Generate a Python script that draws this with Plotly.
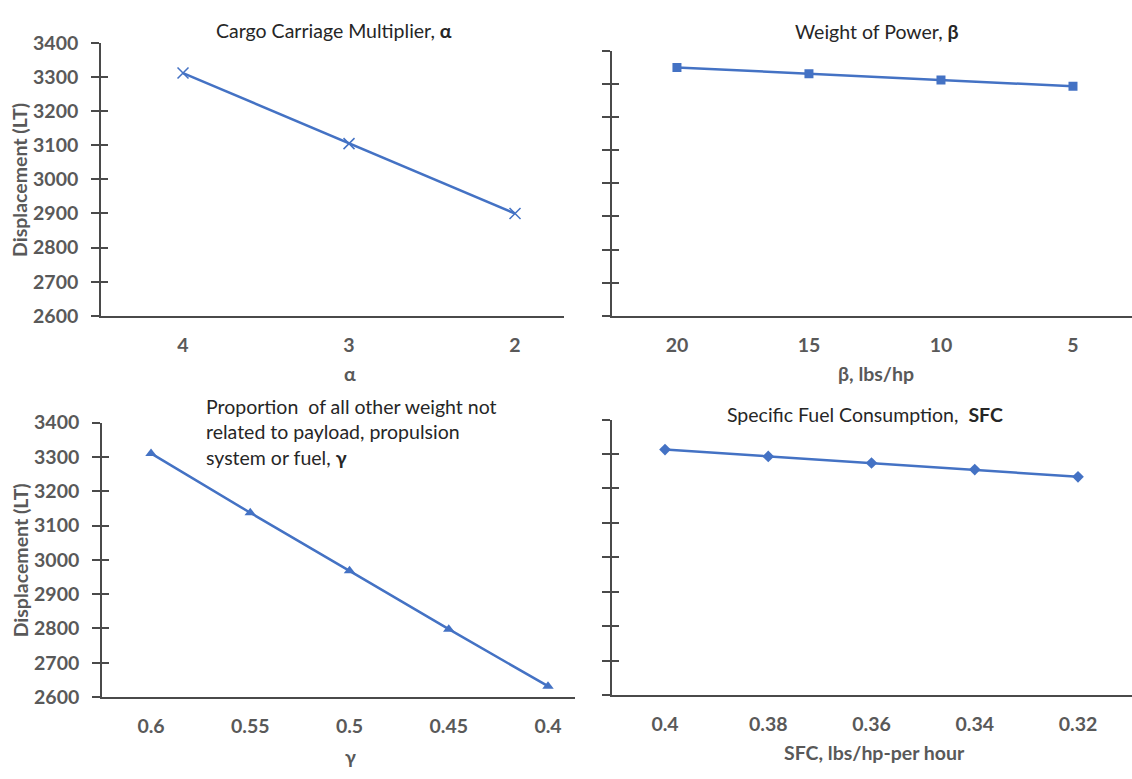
import plotly.graph_objects as go

W, H = 1132, 779

# ---- data ----
alpha_x = [4, 3, 2]
alpha_y = [3312, 3105, 2900]
beta_x = [20, 15, 10, 5]
beta_y = [3350, 3331, 3312, 3293]
gamma_x = [0.6, 0.55, 0.5, 0.45, 0.4]
gamma_y = [3310, 3137, 2968, 2798, 2632]
sfc_x = [0.4, 0.38, 0.36, 0.34, 0.32]
sfc_y = [3313, 3293, 3274, 3255, 3234]

alpha_ticks = ["4", "3", "2"]
beta_ticks = ["20", "15", "10", "5"]
gamma_ticks = ["0.6", "0.55", "0.5", "0.45", "0.4"]
sfc_ticks = ["0.4", "0.38", "0.36", "0.34", "0.32"]
y_ticks = [2600, 2700, 2800, 2900, 3000, 3100, 3200, 3300, 3400]

BLUE = "#4472C4"
AX = "#4a4a4a"
LBL = "#595959"
FONT = "Lato"
FS = 19.5

def px_x(a, b):
    return [a / W, b / W]

def px_y(top, bottom):
    return [1 - bottom / H, 1 - top / H]

panels = [
    dict(x=alpha_x, y=alpha_y, tt=alpha_ticks, sym="x-thin", size=11, xd=(101, 564), yd=(32, 313),
         xr=[4.494, 1.705], ylab=True),
    dict(x=beta_x, y=beta_y, tt=beta_ticks, sym="square", size=9, xd=(612, 1132), yd=(40, 313),
         xr=[22.46, 2.765], ylab=False),
    dict(x=gamma_x, y=gamma_y, tt=gamma_ticks, sym="triangle-up", size=10, xd=(102, 575), yd=(423, 706),
         xr=[0.6247, 0.3864], ylab=True),
    dict(x=sfc_x, y=sfc_y, tt=sfc_ticks, sym="diamond", size=9, xd=(612, 1132), yd=(420, 704),
         xr=[0.41027, 0.30954], ylab=False),
]

fig = go.Figure()
layout = {}
for i, p in enumerate(panels, start=1):
    xa = "x" if i == 1 else f"x{i}"
    ya = "y" if i == 1 else f"y{i}"
    yo = f"y{i + 4}"
    line_marker = dict(symbol=p["sym"], size=p["size"], color=BLUE,
                       line=dict(color=BLUE, width=1.5 if p["sym"] == "x-thin" else 0))
    fig.add_trace(go.Scatter(x=p["x"], y=p["y"], mode="lines+markers", xaxis=xa, yaxis=ya,
                             line=dict(color=BLUE, width=2.5), marker=line_marker,
                             showlegend=False, hoverinfo="x+y"))
    fig.add_trace(go.Scatter(x=[None], y=[None], xaxis=xa, yaxis=yo, showlegend=False,
                             hoverinfo="skip"))
    layout[f"xaxis{'' if i == 1 else i}"] = dict(
        domain=px_x(*p["xd"]), anchor=ya, range=p["xr"], tickvals=p["x"], ticktext=p["tt"],
        showgrid=False, zeroline=False, showline=True, linecolor=AX, linewidth=1.6,
        ticks="", ticklabelstandoff=11,
        tickfont=dict(family=FONT, size=FS, color=LBL, weight="bold"))
    layout[f"yaxis{'' if i == 1 else i}"] = dict(
        domain=px_y(*p["yd"]), anchor=xa, range=[2600, 3400], tickvals=y_ticks,
        showgrid=False, zeroline=False, showline=True, linecolor=AX, linewidth=1.6,
        ticks="outside", ticklen=8, tickwidth=1.5, tickcolor=AX,
        showticklabels=p["ylab"], ticklabelstandoff=9,
        tickfont=dict(family=FONT, size=FS, color=LBL, weight="bold"))
    layout[f"yaxis{i + 4}"] = dict(
        domain=px_y(*p["yd"]), anchor=xa, overlaying=ya, range=[2600, 3400], tickvals=y_ticks,
        showgrid=False, zeroline=False, showline=False,
        ticks="inside", ticklen=7, tickwidth=1.5, tickcolor=AX, showticklabels=False)

def ann(text, x, y, size=FS, color="#262626", bold=False, xanchor="center", align="center",
        angle=0):
    return dict(text=text, x=x / W, y=1 - y / H, xref="paper", yref="paper", showarrow=False,
                xanchor=xanchor, yanchor="middle", align=align, textangle=angle,
                font=dict(family=FONT, size=size, color=color,
                          weight="bold" if bold else "normal"))

annotations = [
    ann("Cargo Carriage Multiplier, <b>α</b>", 334, 19),
    ann("Weight of Power, <b>β</b>", 877, 20),
    ann("Proportion  of all other weight not<br>related to payload, propulsion<br>system or fuel, <b>γ</b>",
        204, 433, xanchor="left", align="left"),
    ann("Specific Fuel Consumption,  <b>SFC</b>", 865, 415),
    ann("α", 350, 373, color=LBL, bold=True),
    ann("β, lbs/hp", 876, 373, color=LBL, bold=True),
    ann("γ", 350, 767, color=LBL, bold=True),
    ann("SFC, lbs/hp-per hour", 874, 763, color=LBL, bold=True),
    ann("Displacement (LT)", 20, 173, color=LBL, bold=True, angle=-90),
    ann("Displacement (LT)", 20, 565, color=LBL, bold=True, angle=-90),
]

fig.update_layout(
    width=W, height=H, margin=dict(l=0, r=0, t=0, b=0),
    paper_bgcolor="white", plot_bgcolor="white",
    font=dict(family=FONT, color=LBL),
    annotations=annotations, showlegend=False,
    **layout,
)

fig.write_html("out.html")
